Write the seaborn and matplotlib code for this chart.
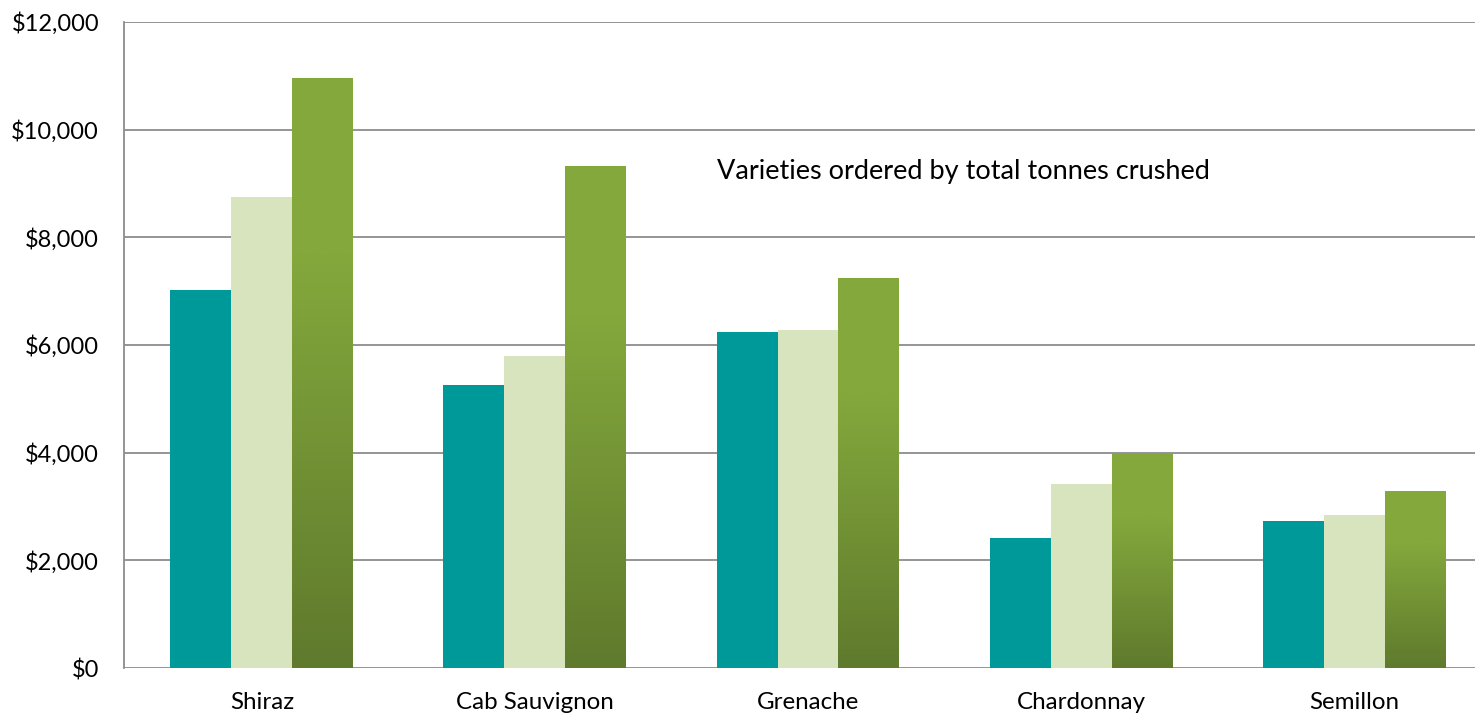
import numpy as np
import pandas as pd
import matplotlib
matplotlib.use("Agg")
import matplotlib.pyplot as plt
import seaborn as sns
from matplotlib.colors import LinearSegmentedColormap
from matplotlib.ticker import FuncFormatter, MultipleLocator

varieties = ["Shiraz", "Cab Sauvignon", "Grenache", "Chardonnay", "Semillon"]
series_names = ["Series 1", "Series 2", "Series 3"]
series1 = [7020, 5260, 6240, 2410, 2730]
series2 = [8750, 5790, 6280, 3420, 2840]
series3 = [10960, 9320, 7250, 3990, 3290]
annotation = "Varieties ordered by total tonnes crushed"

df = pd.DataFrame({
    "variety": varieties * 3,
    "series": [series_names[0]] * 5 + [series_names[1]] * 5 + [series_names[2]] * 5,
    "value": series1 + series2 + series3,
})

sns.set_theme(style="white")
plt.rcParams["font.family"] = ["Lato", "DejaVu Sans"]

teal = "#009999"
light = "#D7E4BD"
green_top = "#84A83C"
green_bot = "#5F7A2D"

fig = plt.figure(figsize=(14.75, 7.15), dpi=100)
ax = fig.add_axes([124 / 1475, 47 / 715, (1492 - 124) / 1475, 646 / 715])

sns.barplot(data=df, x="variety", y="value", hue="series", order=varieties,
            hue_order=series_names, palette=[teal, light, green_top],
            width=0.67, gap=0, saturation=1, legend=False, ax=ax,
            linewidth=0, zorder=3, errorbar=None)

# gradient fill for third series
cmap = LinearSegmentedColormap.from_list(
    "g", [(0.0, green_bot), (0.7, green_top), (1.0, green_top)])
grad = np.linspace(0, 1, 256).reshape(-1, 1)
for patch in ax.containers[2]:
    x, y0 = patch.get_x(), patch.get_y()
    w, h = patch.get_width(), patch.get_height()
    im = ax.imshow(grad, cmap=cmap, origin="lower", aspect="auto",
                   extent=[x, x + w, y0, y0 + h], zorder=3.5,
                   interpolation="bilinear")
    im.set_clip_path(patch)
    patch.set_facecolor("none")

ax.set_xlim(-0.505, 4.505)
ax.set_ylim(0, 12000)
ax.yaxis.set_major_locator(MultipleLocator(2000))
ax.yaxis.set_major_formatter(FuncFormatter(lambda v, p: f"${v:,.0f}"))
ax.grid(axis="y", color="#8C8C8C", linewidth=1.3, zorder=0)
ax.set_axisbelow(True)
for s in ["top", "right", "bottom"]:
    ax.spines[s].set_visible(False)
ax.spines["left"].set_color("#8C8C8C")
ax.spines["left"].set_linewidth(1.3)
ax.tick_params(axis="y", length=0, pad=18, labelsize=17, labelcolor="black")
ax.tick_params(axis="x", length=0, pad=17, labelsize=17.4, labelcolor="black")
ax.set_xlabel("")
ax.set_ylabel("")

ax.text(2.568, 9214, annotation, ha="center", va="center", fontsize=19.5,
        color="black")

fig.savefig("out.png", dpi=100)
